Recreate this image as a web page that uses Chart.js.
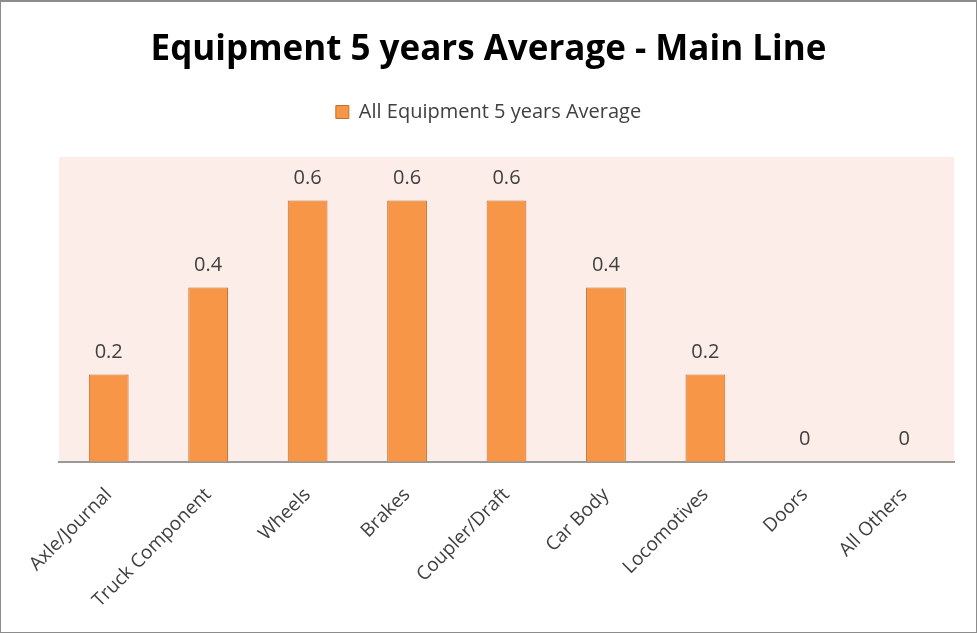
<!DOCTYPE html>
<html>
<head>
<meta charset="utf-8">
<script src="https://cdn.jsdelivr.net/npm/chart.js@4"></script>
<style>
  html, body { margin: 0; padding: 0; background: #fff; }
  #wrap { width: 975px; height: 630px; border: 1px solid #8c8c8c; border-top: 2px solid #8c8c8c; }
  canvas { display: block; }
</style>
</head>
<body>
<div id="wrap"><canvas id="chart" width="975" height="630"></canvas></div>
<script>
const categories = ["Axle/Journal", "Truck Component", "Wheels", "Brakes", "Coupler/Draft", "Car Body", "Locomotives", "Doors", "All Others"];
const averages = [0.2, 0.4, 0.6, 0.6, 0.6, 0.4, 0.2, 0, 0];

const plotBg = {
  id: "plotBg",
  beforeDraw(chart) {
    const { ctx, chartArea: a } = chart;
    ctx.save();
    ctx.fillStyle = "#fcede8";
    ctx.fillRect(a.left, a.top, a.right - a.left, a.bottom - a.top);
    ctx.restore();
  }
};

// extra gap under the legend
const legendGap = {
  id: "legendGap",
  beforeInit(chart) {
    const fit = chart.legend.fit;
    chart.legend.fit = function () {
      fit.call(this);
      this.height += 25;
    };
  }
};

const valueLabels = {
  id: "valueLabels",
  afterDatasetsDraw(chart) {
    const { ctx } = chart;
    const meta = chart.getDatasetMeta(0);
    ctx.save();
    ctx.fillStyle = "#404040";
    ctx.font = "20px 'Open Sans'";
    ctx.textAlign = "center";
    ctx.textBaseline = "bottom";
    meta.data.forEach((bar, i) => {
      ctx.fillText(String(averages[i]), bar.x, bar.y - 12);
    });
    ctx.restore();
  }
};

new Chart(document.getElementById("chart"), {
  type: "bar",
  data: {
    labels: categories,
    datasets: [{
      label: "All Equipment 5 years Average",
      data: averages,
      backgroundColor: "#f79646",
      borderColor: "#c0702e",
      borderWidth: 1,
      barPercentage: 0.4,
      categoryPercentage: 1
    }]
  },
  options: {
    responsive: false,
    animation: false,
    layout: { padding: { left: 22, right: 22, top: 10, bottom: 6 } },
    plugins: {
      title: {
        display: true,
        text: "Equipment 5 years Average - Main Line",
        color: "#000",
        font: { family: "'Open Sans'", size: 35, weight: "bold" },
        padding: { top: 17, bottom: 21 }
      },
      legend: {
        labels: {
          color: "#404040",
          font: { family: "'Open Sans'", size: 20 },
          boxWidth: 13,
          boxHeight: 13,
          padding: 10
        }
      },
      tooltip: { enabled: false }
    },
    scales: {
      x: {
        grid: { display: false },
        border: { color: "#999", width: 2 },
        ticks: {
          color: "#404040",
          font: { family: "'Open Sans'", size: 19 },
          padding: 14,
          minRotation: 45,
          maxRotation: 45
        }
      },
      y: {
        min: 0,
        max: 0.7,
        grid: { display: false },
        border: { display: false },
        ticks: { display: false },
        afterFit(scale) { scale.width = 36; }
      }
    }
  },
  plugins: [plotBg, legendGap, valueLabels]
});
</script>
</body>
</html>
